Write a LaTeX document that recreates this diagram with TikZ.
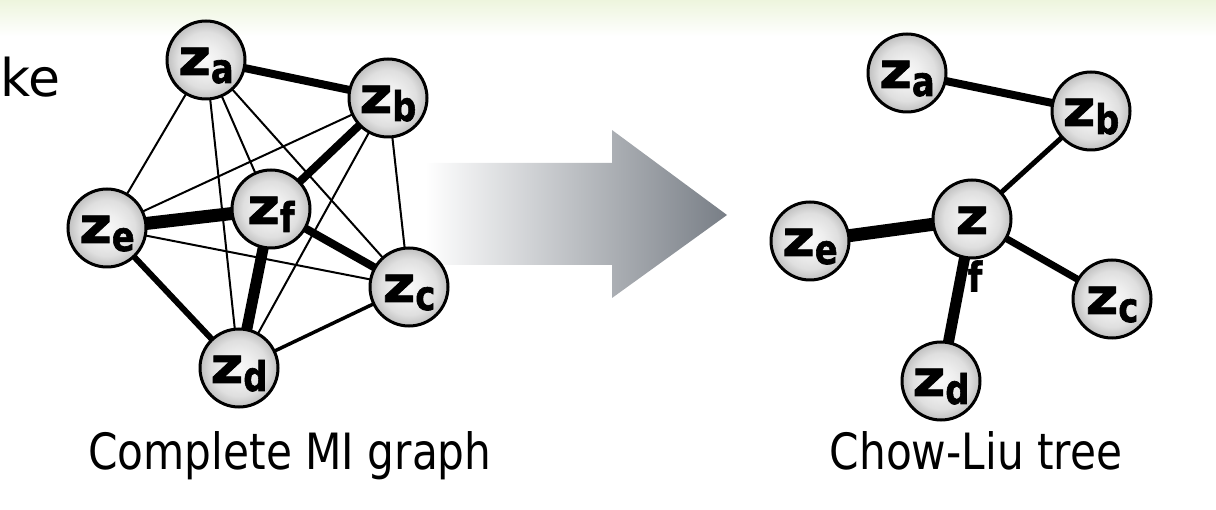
\documentclass[tikz,border=0pt]{standalone}
\usepackage{fontspec}
\setmainfont{DejaVu Sans}
\newfontfamily\heavyfont{DejaVu Sans}[BoldFeatures={FakeBold=1.6}]
\usetikzlibrary{backgrounds}

% grey ball shading for the variable nodes
\pgfdeclareradialshading{ball}{\pgfpoint{0bp}{0bp}}{%
  color(0bp)=(gray!5); color(9bp)=(gray!13); color(18bp)=(gray!25);
  color(25bp)=(gray!50); color(50bp)=(gray!50)}

\definecolor{bandgreen}{RGB}{237,245,221}
\definecolor{arrowgrey}{RGB}{120,126,134}

% z with a lowered index letter
\newcommand\zlab[1]{\scalebox{1.12}[1]{z}\raisebox{-8pt}{\fontsize{41}{41}\selectfont\scalebox{0.82}[1]{#1}}}

\tikzset{
  ball/.style={circle, draw=black, line width=3pt, minimum size=78pt,
    inner sep=0pt, shading=ball, text height=32pt, text depth=2pt,
    font=\fontsize{50}{50}\selectfont\heavyfont\bfseries},
  subf/.style={inner sep=0pt, font=\fontsize{41}{41}\selectfont\heavyfont\bfseries},
  caption/.style={inner sep=0pt, font=\fontsize{50}{60}\selectfont},
  lnk/.style={draw=black, line width=#1},
}

\begin{document}
\begin{tikzpicture}[x=1pt, y=-1pt]
\useasboundingbox (0,0) rectangle (1216,510);

% complete mutual-information graph
\node[ball] (la) at (206,60)  {\zlab{a}};
\node[ball] (lb) at (388,98)  {\zlab{b}};
\node[ball] (lc) at (409,287) {\zlab{c}};
\node[ball] (ld) at (239,368) {\zlab{d}};
\node[ball] (le) at (107,228) {\zlab{e}};
\node[ball] (lf) at (271,209) {\zlab{f}};

% Chow-Liu tree
\node[ball] (ra) at (907,73)   {\zlab{a}};
\node[ball] (rb) at (1091,111) {\zlab{b}};
\node[ball] (rc) at (1112,299) {\zlab{c}};
\node[ball] (rd) at (941,381)  {\zlab{d}};
\node[ball] (re) at (810,241)  {\zlab{e}};
\node[ball] (rf) at (972,219)  {\scalebox{1.12}[1]{z}};
\node[subf] (rfsub) at (975,276) {\scalebox{0.82}[1]{f}};

% captions
\node[caption, anchor=base] (capl) at (290,470) {\scalebox{0.845}[1]{Complete MI graph}};
\node[caption, anchor=base] (capr) at (976,470) {\scalebox{0.845}[1]{Chow-Liu tree}};
\node[caption, anchor=base west, font=\fontsize{52}{60}\selectfont] (ke) at (0,97) {ke};

\begin{pgfonlayer}{background}
  % header band
  \shade[top color=bandgreen, bottom color=white] (0,0) rectangle (1216,36);
  % block arrow
  \shade[left color=white, right color=arrowgrey]
    (425,163) -- (612,163) -- (612,130) -- (727,215) -- (612,298)
    -- (612,265) -- (425,265) -- cycle;

  % edges of the complete graph, width ~ mutual information
  \draw[lnk=8]   (la.center) -- (lb.center);
  \draw[lnk=2]   (la.center) -- (lc.center);
  \draw[lnk=2]   (la.center) -- (ld.center);
  \draw[lnk=2]   (la.center) -- (le.center);
  \draw[lnk=2]   (la.center) -- (lf.center);
  \draw[lnk=2]   (lb.center) -- (lc.center);
  \draw[lnk=2]   (lb.center) -- (ld.center);
  \draw[lnk=2]   (lb.center) -- (le.center);
  \draw[lnk=8]   (lb.center) -- (lf.center);
  \draw[lnk=3.5] (lc.center) -- (ld.center);
  \draw[lnk=2]   (lc.center) -- (le.center);
  \draw[lnk=8]   (lc.center) -- (lf.center);
  \draw[lnk=6]   (ld.center) -- (le.center);
  \draw[lnk=11]  (ld.center) -- (lf.center);
  \draw[lnk=13]  (le.center) -- (lf.center);

  % edges of the tree
  \draw[lnk=8]  (ra.center) -- (rb.center);
  \draw[lnk=5]  (rb.center) -- (rf.center);
  \draw[lnk=13] (re.center) -- (rf.center);
  \draw[lnk=7]  (rf.center) -- (rc.center);
  \draw[lnk=11] (rf.center) -- (rd.center);
\end{pgfonlayer}
\end{tikzpicture}
\end{document}
